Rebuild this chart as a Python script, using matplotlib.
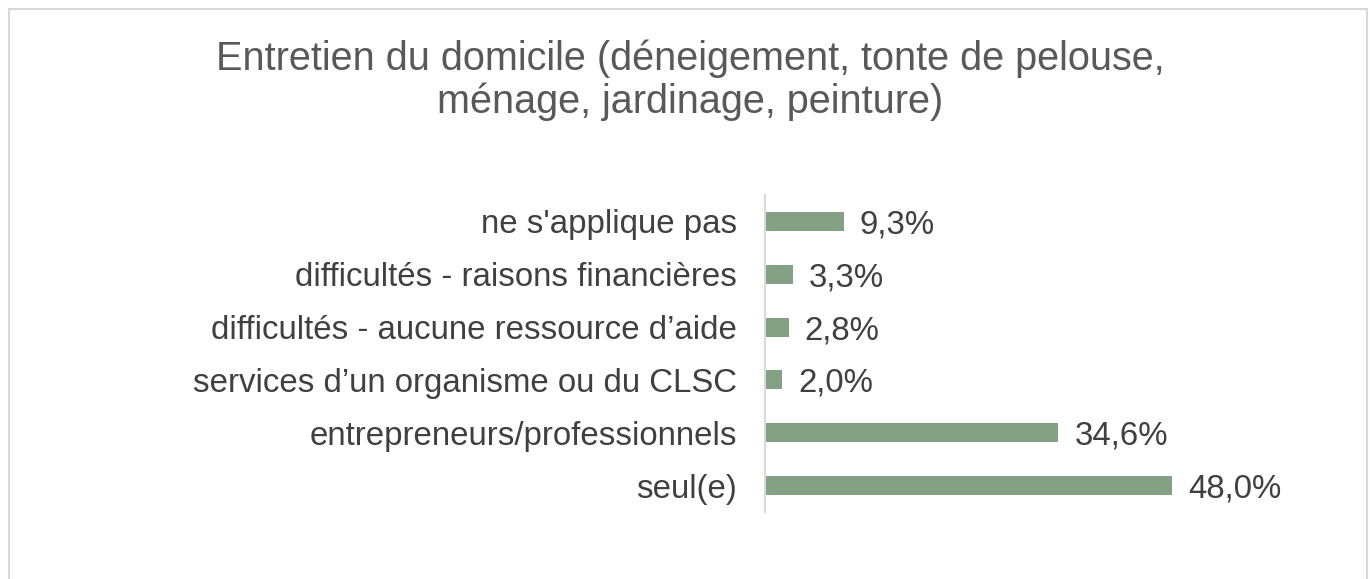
import matplotlib
matplotlib.use("Agg")
import matplotlib.pyplot as plt
from matplotlib.patches import Rectangle

categories = [
    "seul(e)",
    "entrepreneurs/professionnels",
    "services d\u2019un organisme ou du CLSC",
    "difficultés - aucune ressource d\u2019aide",
    "difficultés - raisons financières",
    "ne s'applique pas",
]
values = [48.0, 34.6, 2.0, 2.8, 3.3, 9.3]
title = "Entretien du domicile (déneigement, tonte de pelouse,\nménage, jardinage, peinture)"

plt.rcParams['font.family'] = ['Liberation Sans', 'DejaVu Sans']

W, H, DPI = 1370, 579, 100
fig = plt.figure(figsize=(W / DPI, H / DPI), dpi=DPI)

# outer frame (extends beyond bottom edge)
fig.patches.append(Rectangle((9 / W, -0.05), (1367 - 9) / W, 1.05 - 9 / H,
                             transform=fig.transFigure, fill=False,
                             edgecolor='#d9d9d9', linewidth=1.5))

ax_left = 765 / W
ax_right = (765 + 50 * 8.48) / W
ax_top = 1 - 195 / H
ax_bot = 1 - 512 / H
ax = fig.add_axes([ax_left, ax_bot, ax_right - ax_left, ax_top - ax_bot])

y = list(range(len(categories)))
bars = ax.barh(y, values, height=0.36, color='#84a186')
ax.set_xlim(0, 50)
ax.set_ylim(-0.5, len(categories) - 0.5)
ax.set_yticks(y)
ax.set_yticklabels(categories, fontsize=23.8, color='#404040')
ax.tick_params(axis='y', length=0, pad=20)
ax.set_xticks([])
for s in ['top', 'right', 'bottom']:
    ax.spines[s].set_visible(False)
ax.spines['left'].set_color('#d9d9d9')
ax.spines['left'].set_linewidth(1.5)

for yi, v in zip(y, values):
    ax.annotate(f"{v:.1f}%".replace('.', ','), (v, yi), xytext=(16, 0),
                textcoords='offset pixels', va='center_baseline', ha='left',
                fontsize=23.8, color='#404040')

fig.text(690 / W, 1 - 80 / H, title, ha='center', va='center', fontsize=28.5,
         color='#595959', linespacing=1.16)

fig.savefig("out.png", dpi=DPI, facecolor='white')
